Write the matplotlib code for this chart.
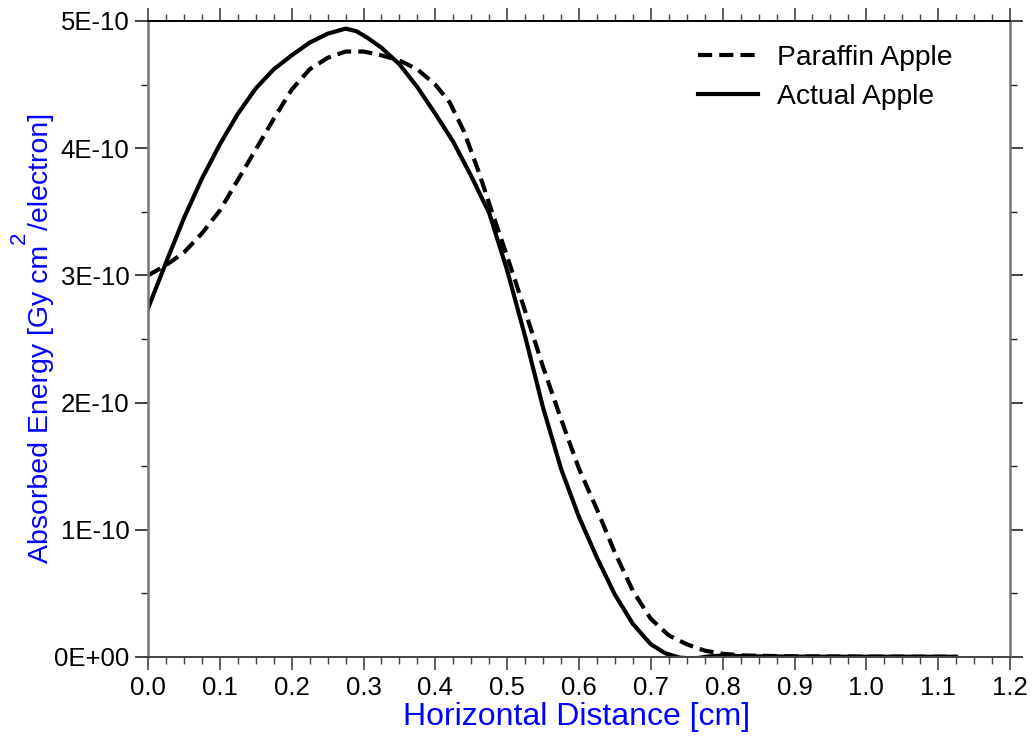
import matplotlib
matplotlib.use("Agg")
import matplotlib.pyplot as plt
from matplotlib.ticker import MultipleLocator, FixedLocator

plt.rcParams['font.family'] = ['Liberation Sans', 'DejaVu Sans']

# Data (energy in units of 1E-10 Gy cm^2/electron)
paraffin_x = [0.000, 0.025, 0.050, 0.075, 0.100, 0.125, 0.150, 0.175, 0.200, 0.225,
              0.250, 0.275, 0.300, 0.325, 0.350, 0.375, 0.400, 0.420, 0.440, 0.460,
              0.480, 0.500, 0.525, 0.550, 0.575, 0.600, 0.625, 0.650, 0.675, 0.700,
              0.725, 0.750, 0.775, 0.800, 0.830, 0.900, 1.000, 1.125]
paraffin_y = [3.00, 3.08, 3.18, 3.33, 3.51, 3.75, 3.99, 4.23, 4.46, 4.62,
              4.71, 4.76, 4.76, 4.73, 4.69, 4.62, 4.50, 4.36, 4.13, 3.82,
              3.48, 3.15, 2.72, 2.28, 1.87, 1.48, 1.16, 0.82, 0.52, 0.30,
              0.17, 0.10, 0.05, 0.025, 0.012, 0.005, 0.003, 0.002]

actual_x = [0.000, 0.025, 0.050, 0.075, 0.100, 0.125, 0.150, 0.175, 0.200, 0.225,
            0.250, 0.275, 0.290, 0.305, 0.325, 0.350, 0.375, 0.400, 0.425, 0.450,
            0.475, 0.500, 0.525, 0.550, 0.575, 0.600, 0.625, 0.650, 0.675, 0.700,
            0.720, 0.740, 0.760, 0.780, 0.800, 0.830, 0.900, 1.000, 1.125]
actual_y = [2.74, 3.10, 3.45, 3.76, 4.03, 4.27, 4.47, 4.62, 4.73, 4.83,
            4.90, 4.94, 4.92, 4.87, 4.79, 4.66, 4.48, 4.27, 4.05, 3.78,
            3.49, 3.04, 2.52, 1.96, 1.48, 1.10, 0.78, 0.49, 0.26, 0.10,
            0.03, -0.005, -0.012, 0.004, 0.012, 0.006, 0.003, 0.002, 0.002]

y_ticks = [0, 1, 2, 3, 4, 5]
y_labels = ["0E+00", "1E-10", "2E-10", "3E-10", "4E-10", "5E-10"]
x_ticks = [0.0, 0.1, 0.2, 0.3, 0.4, 0.5, 0.6, 0.7, 0.8, 0.9, 1.0, 1.1, 1.2]

W, H = 1034, 742
fig = plt.figure(figsize=(W / 100, H / 100), dpi=100)
ax = fig.add_axes([148 / W, 1 - 657 / H, (1010 - 148) / W, (657 - 21) / H])

ax.plot(paraffin_x, paraffin_y, color='black', lw=3.0, ls=(0, (3.4, 1.7)),
        label='Paraffin Apple', solid_capstyle='round')
ax.plot(actual_x, actual_y, color='black', lw=3.0, label='Actual Apple',
        solid_joinstyle='round')

ax.set_xlim(0, 1.2)
ax.set_ylim(0, 5)
ax.xaxis.set_major_locator(FixedLocator(x_ticks))
ax.xaxis.set_minor_locator(MultipleLocator(0.025))
ax.yaxis.set_major_locator(FixedLocator(y_ticks))
ax.yaxis.set_minor_locator(MultipleLocator(0.5))
ax.set_xticklabels([f"{v:.1f}" for v in x_ticks])
ax.set_yticklabels(y_labels)

ax.tick_params(which='both', direction='out', top=True, right=True,
               labeltop=False, labelright=False, labelsize=18.5, colors='black')
ax.tick_params(which='major', length=9.4, width=1.2, pad=4)
ax.tick_params(which='minor', length=4.8, width=1.0)
ax.tick_params(axis='y', which='both', color='#222222')
ax.tick_params(axis='x', which='both', color='#444444')

for side in ['left', 'right']:
    ax.spines[side].set_color('#777777')
    ax.spines[side].set_linewidth(1.8)
ax.spines['top'].set_color('black')
ax.spines['top'].set_linewidth(1.4)
ax.spines['bottom'].set_color('#444444')
ax.spines['bottom'].set_linewidth(1.4)

# x label
fig.text(577 / W, 1 - 717 / H, 'Horizontal Distance [cm]', color='#0000ff',
         fontsize=23, ha='center', va='center')

# y label built from pieces (raised "2")
blue = '#0000ff'
t1 = fig.text(0, 0, 'Absorbed Energy [Gy cm', color=blue, fontsize=20.5,
              rotation=90, ha='center', va='bottom')
t2 = fig.text(0, 0, '2', color=blue, fontsize=16, rotation=90,
              ha='center', va='bottom')
t3 = fig.text(0, 0, '/electron]', color=blue, fontsize=20.5, rotation=90,
              ha='center', va='bottom')
r = fig.canvas.get_renderer()
h1 = t1.get_window_extent(r).height
h2 = t2.get_window_extent(r).height
h3 = t3.get_window_extent(r).height
total = h1 + h2 + h3 + 2
bottom = (H - 338) - total / 2
t1.set_position((41 / W, bottom / H))
t2.set_position((19 / W, (bottom + h1 + 1) / H))
t3.set_position((41 / W, (bottom + h1 + h2 + 2) / H))

leg = ax.legend(loc='upper left', frameon=False, fontsize=20.3,
                handlelength=2.13, handletextpad=0.67, labelspacing=0.45,
                borderpad=0, borderaxespad=0,
                bbox_to_anchor=(698 / W, 1 - 45 / H),
                bbox_transform=fig.transFigure)

fig.savefig('out.png', dpi=100)
